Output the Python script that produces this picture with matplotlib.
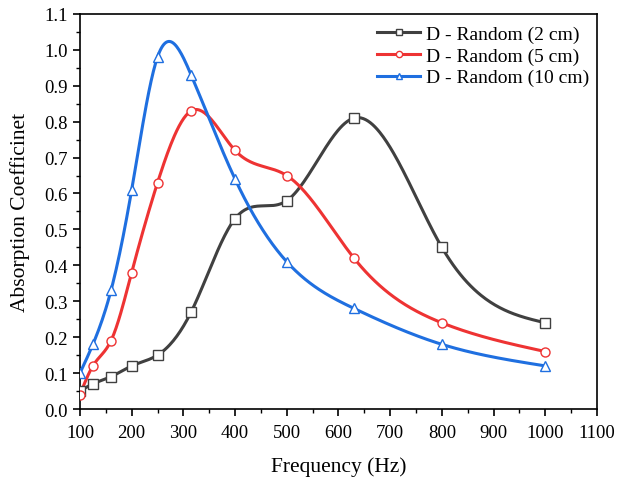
import numpy as np
import matplotlib
matplotlib.use("Agg")
import matplotlib.pyplot as plt
from matplotlib.ticker import MultipleLocator

plt.rcParams['font.family'] = ['Liberation Serif', 'DejaVu Serif']

freq = [100, 125, 160, 200, 250, 315, 400, 500, 630, 800, 1000]
d2 = [0.05, 0.07, 0.09, 0.12, 0.15, 0.27, 0.53, 0.58, 0.81, 0.45, 0.24]
d5 = [0.04, 0.12, 0.19, 0.38, 0.63, 0.83, 0.72, 0.65, 0.42, 0.24, 0.16]
d10 = [0.10, 0.18, 0.33, 0.61, 0.98, 0.93, 0.64, 0.41, 0.28, 0.18, 0.12]


def spline(x, y, n=400):
    # natural cubic spline, used only for drawing the line
    x = np.asarray(x, float)
    y = np.asarray(y, float)
    m = len(x)
    h = np.diff(x)
    A = np.zeros((m, m))
    b = np.zeros(m)
    A[0, 0] = A[-1, -1] = 1
    for i in range(1, m - 1):
        A[i, i - 1] = h[i - 1]
        A[i, i] = 2 * (h[i - 1] + h[i])
        A[i, i + 1] = h[i]
        b[i] = 6 * ((y[i + 1] - y[i]) / h[i] - (y[i] - y[i - 1]) / h[i - 1])
    M = np.linalg.solve(A, b)
    xs = np.linspace(x[0], x[-1], n)
    k = np.clip(np.searchsorted(x, xs) - 1, 0, m - 2)
    t1 = x[k + 1] - xs
    t0 = xs - x[k]
    hk = h[k]
    ys = (M[k] * t1 ** 3 + M[k + 1] * t0 ** 3) / (6 * hk) \
        + (y[k] / hk - M[k] * hk / 6) * t1 + (y[k + 1] / hk - M[k + 1] * hk / 6) * t0
    return xs, ys


series = [
    (d2, 'D - Random (2 cm)', '#404040', 's'),
    (d5, 'D - Random (5 cm)', '#ee3333', 'o'),
    (d10, 'D - Random (10 cm)', '#1f6fe0', '^'),
]

fig = plt.figure(figsize=(6.18, 4.81), dpi=100)
ax = fig.add_axes([0.1294, 0.1476, 0.8366, 0.8214])

for y, label, c, mk in series:
    xs, ys = spline(freq, y)
    ax.plot(xs, ys, color=c, lw=2.2, zorder=2)
    ax.plot(freq, y, ls='none', marker=mk, ms=6.5, mfc='white', mec=c, mew=1.0, zorder=3)
    ax.plot([], [], color=c, lw=2.2, marker=mk, ms=4.5, mfc='white', mec=c, mew=1.0, label=label)

ax.set_xlim(100, 1100)
ax.set_ylim(0, 1.1)
ax.xaxis.set_major_locator(MultipleLocator(100))
ax.xaxis.set_minor_locator(MultipleLocator(50))
ax.yaxis.set_major_locator(MultipleLocator(0.1))
ax.yaxis.set_minor_locator(MultipleLocator(0.05))
ax.yaxis.set_major_formatter(matplotlib.ticker.FormatStrFormatter('%.1f'))
ax.tick_params(which='major', direction='out', length=5, width=1.2, labelsize=13.5, pad=4)
ax.tick_params(axis='x', which='major', pad=6)
ax.tick_params(which='minor', direction='out', length=3, width=1.0)
for s in ax.spines.values():
    s.set_linewidth(1.2)

ax.set_xlabel('Frequency (Hz)', fontsize=15.5, labelpad=11)
ax.set_ylabel('Absorption Coefficinet', fontsize=15.5, labelpad=10)
ax.legend(loc='upper right', frameon=False, fontsize=14, handlelength=2.2,
          handletextpad=0.3, labelspacing=0.2, borderaxespad=0.0,
          bbox_to_anchor=(1.0, 0.99))

fig.savefig('out.png', dpi=100)
